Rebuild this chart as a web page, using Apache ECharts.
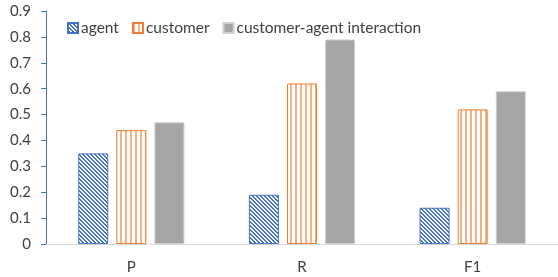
<!DOCTYPE html>
<html>
<head>
<meta charset="utf-8">
<script src="https://cdn.jsdelivr.net/npm/echarts@6/dist/echarts.min.js"></script>
<style>
	html, body { margin: 0; padding: 0; background: #fff; }
	#chart { width: 558px; height: 277px; }
</style>
</head>
<body>
<div id="chart"></div>
<script>
const categories = [ 'P', 'R', 'F1' ]
const seriesNames = [ 'agent', 'customer', 'customer-agent interaction' ]
const agentValues = [ 0.35, 0.19, 0.14 ]
const customerValues = [ 0.44, 0.62, 0.52 ]
const interactionValues = [ 0.47, 0.79, 0.59 ]
const yTicks = [ 0, 0.1, 0.2, 0.3, 0.4, 0.5, 0.6, 0.7, 0.8, 0.9 ]

// 斜线填充
const makeDiagonal = () => {
	let c = document.createElement('canvas')
	c.width = 4
	c.height = 4
	let ctx = c.getContext('2d')
	ctx.fillStyle = '#fff'
	ctx.fillRect(0, 0, 4, 4)
	ctx.fillStyle = '#4472c4'
	for (let i = 0; i < 4; i++) {
		ctx.fillRect(i, i, 1, 1)
		ctx.fillRect((i + 1) % 4, i, 1, 1)
	}
	return c
}

// 竖线填充
const makeVertical = () => {
	let c = document.createElement('canvas')
	c.width = 5
	c.height = 1
	let ctx = c.getContext('2d')
	ctx.fillStyle = '#fff'
	ctx.fillRect(0, 0, 5, 1)
	ctx.fillStyle = '#f4b183'
	ctx.fillRect(0, 0, 2, 1)
	return c
}

const font = 'Lato'

const options = {
	animation: false,
	textStyle: { fontFamily: font },
	grid: {
		left: 46,
		right: -4,
		top: 11,
		bottom: 33
	},
	legend: {
		left: 62,
		top: 15,
		itemWidth: 10,
		itemHeight: 10,
		itemGap: 13,
		icon: 'rect',
		textStyle: { fontSize: 15.5, color: '#404040', fontFamily: font, padding: [ 0, 0, 0, -2 ] },
		data: seriesNames
	},
	xAxis: {
		type: 'category',
		data: categories,
		axisLine: { lineStyle: { color: '#d9d9d9', width: 1 } },
		axisTick: { show: false },
		axisLabel: { color: '#404040', fontSize: 15, margin: 16, fontFamily: font }
	},
	yAxis: {
		type: 'value',
		min: 0,
		max: 0.9,
		interval: 0.1,
		axisLine: { show: true, lineStyle: { color: '#4472c4', width: 1 } },
		axisTick: { show: true, length: 5, lineStyle: { color: '#4472c4' } },
		splitLine: { show: false },
		axisLabel: {
			color: '#404040',
			fontSize: 15,
			margin: 15,
			fontFamily: font,
			formatter: (v) => {
				let t = yTicks.find((k) => Math.abs(k - v) < 1e-6)
				return t === 0 ? '0' : String(t)
			}
		}
	},
	series: [
		{
			name: seriesNames[0],
			type: 'bar',
			data: agentValues,
			barWidth: 30,
			barGap: '27%',
			itemStyle: {
				color: { image: makeDiagonal(), repeat: 'repeat' },
				borderColor: '#4472c4',
				borderWidth: 1
			}
		},
		{
			name: seriesNames[1],
			type: 'bar',
			data: customerValues,
			barWidth: 30,
			barGap: '27%',
			itemStyle: {
				color: { image: makeVertical(), repeat: 'repeat' },
				borderColor: '#ed7d31',
				borderWidth: 1
			}
		},
		{
			name: seriesNames[2],
			type: 'bar',
			data: interactionValues,
			barWidth: 30,
			barGap: '27%',
			itemStyle: {
				color: '#a5a5a5',
				borderColor: '#d0d0d0',
				borderWidth: 1
			}
		}
	]
}

echarts.init(document.getElementById('chart'), null, { renderer: 'canvas' }).setOption(options)
</script>
</body>
</html>
